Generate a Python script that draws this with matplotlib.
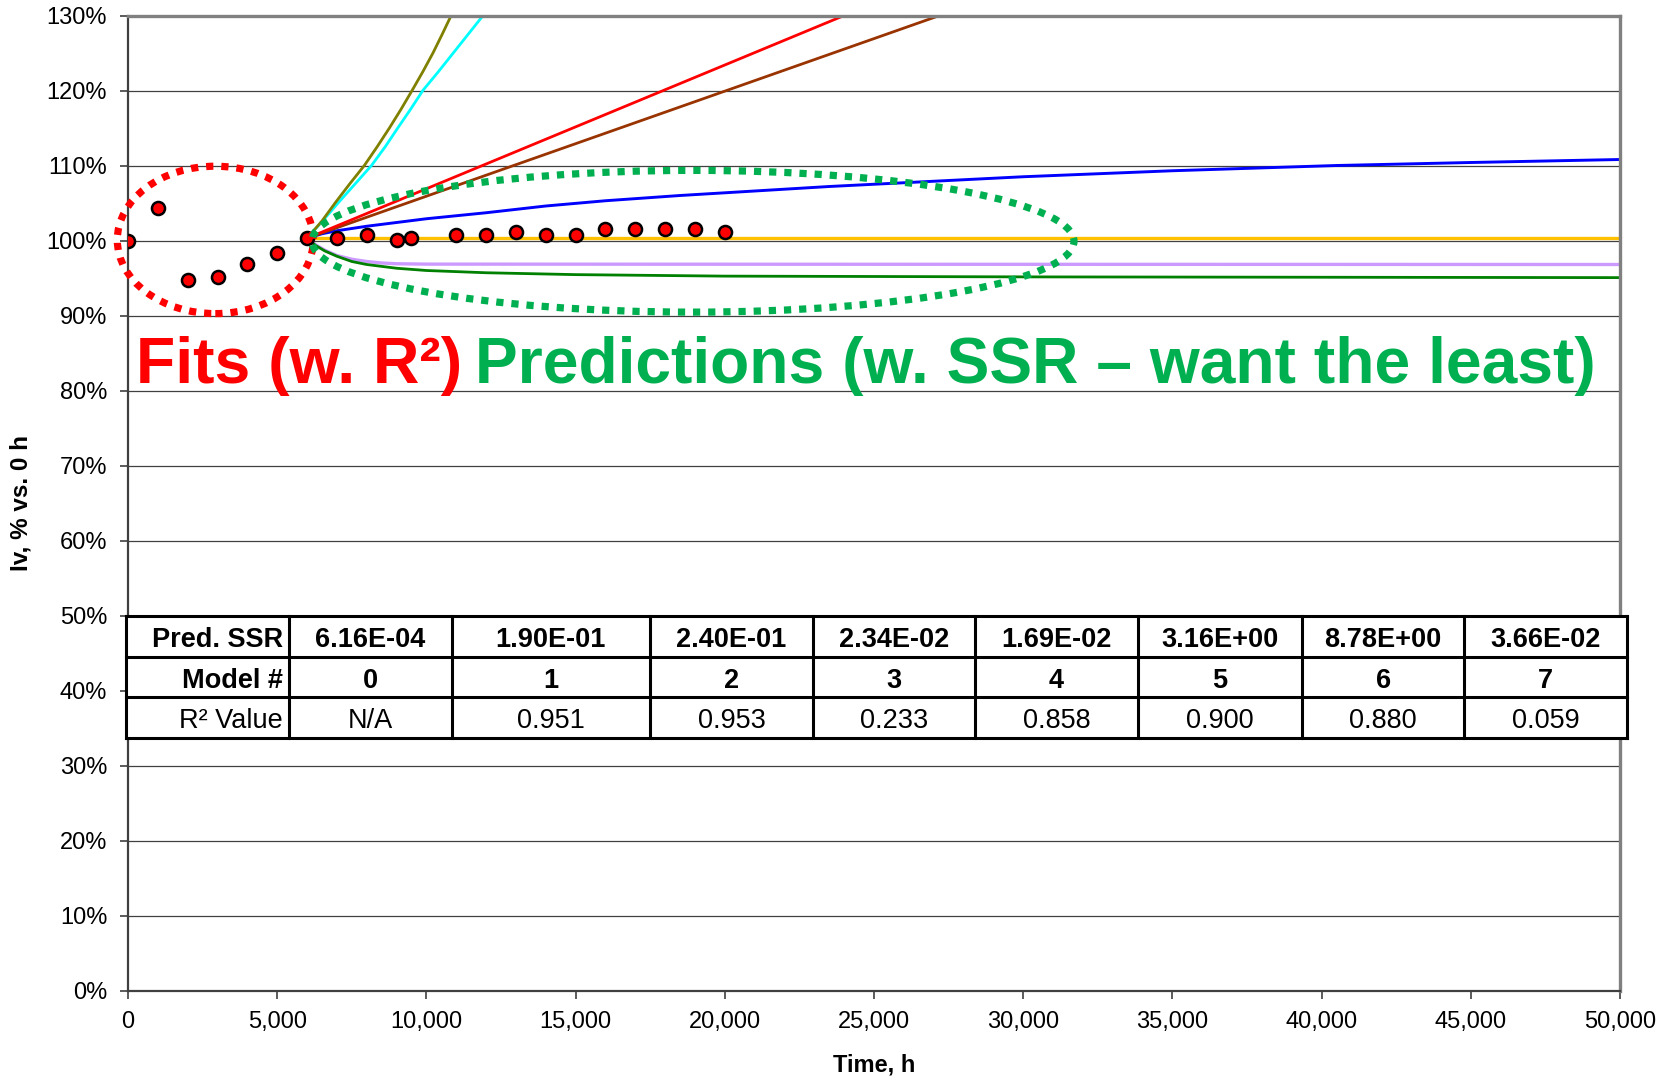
import matplotlib
matplotlib.use('Agg')
import matplotlib.pyplot as plt
from matplotlib.patches import Ellipse, Rectangle
from matplotlib.ticker import FuncFormatter, MultipleLocator
import numpy as np

plt.rcParams['font.family'] = ['Liberation Sans', 'DejaVu Sans']

# measured data (Iv, % of 0 h value)
hours = [0, 1000, 2000, 3000, 4000, 5000, 6000, 7000, 8000, 9000, 9500,
         11000, 12000, 13000, 14000, 15000, 16000, 17000, 18000, 19000, 20000]
iv_pct = [100.0, 104.3, 94.8, 95.2, 96.9, 98.3, 100.3, 100.4, 100.8, 100.1, 100.4,
          100.7, 100.7, 101.1, 100.7, 100.7, 101.5, 101.5, 101.5, 101.5, 101.1]

# model predictions
olive_t = [6000, 6500, 6940, 7420, 7920, 8350, 8760, 9150, 9520, 9880, 10220, 10530, 10830]
olive_v = [100.3, 102.6, 105.0, 107.5, 110.0, 112.5, 115.0, 117.5, 120.0, 122.5, 125.0, 127.5, 130.0]
cyan_t = [6000, 6520, 7040, 7600, 8160, 8620, 9040, 9470, 9880, 10400, 10900, 11400, 11900]
cyan_v = [100.3, 102.6, 105.0, 107.5, 110.0, 112.5, 115.0, 117.5, 120.0, 122.5, 125.0, 127.5, 130.0]
red_t = [6000, 24000]
red_v = [100.3, 130.0]
brown_t = [6000, 27200]
brown_v = [100.3, 130.0]
blue_t = [6000, 6500, 7000, 8000, 9000, 10000, 12000, 14000, 16000, 18500, 21000,
          23500, 26000, 30000, 35000, 40500, 45000, 50000]
blue_v = [100.3, 100.9, 101.3, 101.9, 102.4, 102.9, 103.7, 104.6, 105.3, 106.0, 106.6,
          107.2, 107.7, 108.5, 109.3, 110.0, 110.4, 110.8]
gold_t = [6000, 50000]
gold_v = [100.35, 100.35]
lav_t = [6000, 6300, 6600, 7000, 7500, 8000, 8500, 9000, 10000, 50000]
lav_v = [100.3, 99.4, 98.7, 98.0, 97.5, 97.2, 97.0, 96.9, 96.85, 96.8]
green_t = [6000, 6300, 6600, 7000, 7500, 8000, 9000, 10000, 12000, 15000, 20000, 30000, 50000]
green_v = [100.3, 99.3, 98.6, 97.9, 97.2, 96.8, 96.3, 96.0, 95.7, 95.45, 95.25, 95.15, 95.05]

# table
ssr_labels = ['6.16E-04', '1.90E-01', '2.40E-01', '2.34E-02', '1.69E-02',
              '3.16E+00', '8.78E+00', '3.66E-02']
model_ids = ['0', '1', '2', '3', '4', '5', '6', '7']
r2_labels = ['N/A', '0.951', '0.953', '0.233', '0.858', '0.900', '0.880', '0.059']

W, H = 1665, 1079
fig = plt.figure(figsize=(W / 100, H / 100), dpi=100)
ax = fig.add_axes([128 / W, 1 - 990.5 / H, 1492 / W, 975 / H])

ax.set_xlim(0, 50000)
ax.set_ylim(0, 130)
ax.yaxis.set_major_locator(MultipleLocator(10))
ax.xaxis.set_major_locator(MultipleLocator(5000))
ax.yaxis.set_major_formatter(FuncFormatter(lambda v, p: '{:.0f}%'.format(v)))
ax.xaxis.set_major_formatter(FuncFormatter(lambda v, p: '{:,.0f}'.format(v)))
ax.grid(axis='y', color='#404040', lw=0.9, zorder=0)
ax.set_axisbelow(True)
ax.tick_params(direction='out', length=6, width=1.2, color='#404040',
               labelsize=17, pad=9)
for s in ['left', 'bottom']:
    ax.spines[s].set_color('#404040')
    ax.spines[s].set_linewidth(1.6)
for s in ['top', 'right']:
    ax.spines[s].set_color('#808080')
    ax.spines[s].set_linewidth(2.4)

ax.set_xlabel('Time, h', fontsize=17, fontweight='bold', va='center')
ax.set_ylabel('Iv, % vs. 0 h', fontsize=17.5, fontweight='bold', va='center')
ax.xaxis.set_label_coords(0.5, -(1065 - 990.5) / 975)
ax.yaxis.set_label_coords((21 - 128) / 1492, 0.5)

ax.plot(lav_t, lav_v, color='#CC99FF', lw=2.4, zorder=2)
ax.plot(green_t, green_v, color='#008000', lw=2.0, zorder=2)
ax.plot(gold_t, gold_v, color='#FFC000', lw=2.4, zorder=2)
ax.plot(blue_t, blue_v, color='#0000FF', lw=2.1, zorder=2)
ax.plot(brown_t, brown_v, color='#993300', lw=2.0, zorder=2)
ax.plot(red_t, red_v, color='#FF0000', lw=2.0, zorder=2)
ax.plot(cyan_t, cyan_v, color='#00FFFF', lw=2.0, zorder=2)
ax.plot(olive_t, olive_v, color='#808000', lw=2.0, zorder=2)

ax.plot(hours, iv_pct, linestyle='none', marker='o', ms=9.4, mfc='#FF0000',
        mec='black', mew=1.8, zorder=4)

# dotted ellipses
dots = (0, (1, 1.1))
ax.add_patch(Ellipse((2926, 100.08), 6568, 19.65, fill=False, edgecolor='#FF0000',
                     lw=5.2, linestyle=dots, clip_on=False, zorder=5))
ax.add_patch(Ellipse((18934, 99.9), 25536, 18.9, fill=False, edgecolor='#00B050',
                     lw=5.2, linestyle=dots, clip_on=False, zorder=5))

fig.text(136 / W, 1 - 383 / H, 'Fits (w. R²)', color='#FF0000', fontsize=46.3,
         fontweight='bold', va='baseline', ha='left')
fig.text(475 / W, 1 - 383 / H, 'Predictions (w. SSR – want the least)', color='#00B050',
         fontsize=46.2, fontweight='bold', va='baseline', ha='left')

# table overlay
col_w = np.array([153, 154, 186, 154, 152, 154, 154, 153, 153], dtype=float)
edges = np.concatenate([[0], np.cumsum(col_w)])
tx0, tx1, ty0, ty1 = 126, 1627, 616, 738
tab = fig.add_axes([tx0 / W, 1 - ty1 / H, (tx1 - tx0) / W, (ty1 - ty0) / H])
tab.set_xlim(0, edges[-1])
tab.set_ylim(0, 3)
tab.axis('off')
tab.add_patch(Rectangle((0, 0), edges[-1], 3, facecolor='white', edgecolor='none'))
for e in edges:
    tab.plot([e, e], [0, 3], color='black', lw=2.2, solid_capstyle='projecting', clip_on=False)
for r in range(4):
    tab.plot([0, edges[-1]], [r, r], color='black', lw=2.2, solid_capstyle='projecting', clip_on=False)

rows = [('Pred. SSR', ssr_labels, 'bold'),
        ('Model #', model_ids, 'bold'),
        ('R² Value', r2_labels, 'normal')]
for i, (lab, vals, wt) in enumerate(rows):
    yc = 2.5 - i - 0.09
    tab.text(edges[1] - 5, yc, lab, ha='right', va='center', fontsize=19.5,
             fontweight=wt)
    for j, v in enumerate(vals):
        xc = (edges[j + 1] + edges[j + 2]) / 2
        tab.text(xc, yc, v, ha='center', va='center', fontsize=19.5,
                 fontweight=wt)

fig.savefig('out.png', dpi=100)
